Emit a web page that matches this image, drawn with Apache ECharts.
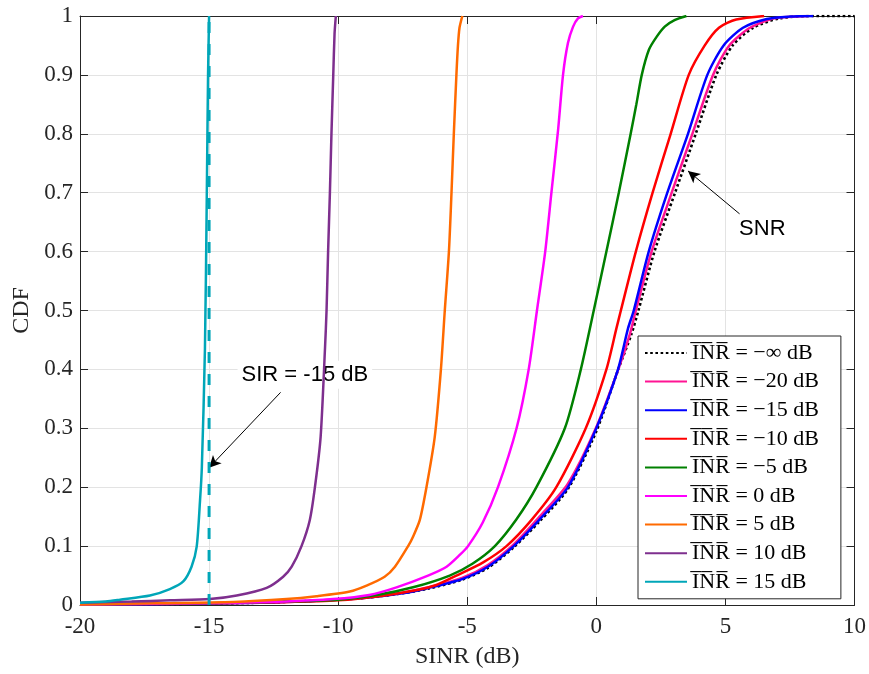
<!DOCTYPE html>
<html><head><meta charset="utf-8">
<script src="https://cdn.jsdelivr.net/npm/echarts@6/dist/echarts.min.js"></script>
<style>html,body{margin:0;padding:0;background:#fff}#c{width:869px;height:674px}</style>
</head><body><div id="c"></div>
<script>
// ---- data ----
const snrInf = [[-20,0.001],[-16,0.002],[-13,0.004],[-11,0.007],[-9,0.012],[-7.5,0.02],[-6.5,0.028],[-5.2,0.043],[-4.2,0.063],[-3.2,0.098],[-2.2,0.142],[-1.1,0.197],[0,0.295],[0.85,0.4],[1.36,0.46],[1.63,0.5],[2.25,0.6],[3.05,0.7],[3.85,0.8],[4.65,0.9],[5.28,0.95],[6.07,0.98],[7.1,0.996],[8.4,1.0],[10,1.0]];
const inrM20 = [[-20,0.001],[-16,0.002],[-13,0.004],[-11,0.007],[-9,0.013],[-7.5,0.021],[-6.5,0.03],[-5.2,0.046],[-4.2,0.068],[-3.2,0.103],[-2.2,0.15],[-1.1,0.206],[0,0.302],[0.85,0.4],[1.3,0.46],[1.53,0.5],[2.14,0.6],[2.92,0.7],[3.72,0.8],[4.52,0.9],[5.15,0.95],[5.95,0.98],[6.9,0.996],[8.2,1.0]];
const inrM15 = [[-20,0.001],[-16,0.002],[-13,0.004],[-11,0.007],[-9,0.012],[-7.5,0.02],[-6.5,0.029],[-5.2,0.044],[-4.2,0.065],[-3.2,0.1],[-2.2,0.145],[-1.1,0.2],[0,0.3],[0.84,0.4],[1.23,0.47],[1.45,0.5],[2.03,0.6],[2.75,0.7],[3.55,0.8],[4.3,0.9],[4.93,0.95],[5.68,0.98],[6.6,0.995],[7.5,0.999],[8.4,1.0]];
const inrM10 = [[-20,0.001],[-15,0.003],[-12,0.005],[-10,0.008],[-8.4,0.015],[-7,0.025],[-6.2,0.034],[-5.42,0.05],[-4.4,0.072],[-3.48,0.1],[-2.5,0.145],[-1.55,0.2],[-0.41,0.3],[0.39,0.4],[0.78,0.47],[0.95,0.5],[1.53,0.6],[2.18,0.7],[2.88,0.8],[3.58,0.9],[4.2,0.95],[4.75,0.98],[5.42,0.994],[6.5,1.0]];
const inrM5 = [[-20,0.001],[-15,0.003],[-12,0.006],[-10,0.009],[-8.5,0.017],[-7.1,0.03],[-5.68,0.05],[-4.8,0.07],[-3.93,0.1],[-3.1,0.145],[-2.32,0.2],[-1.22,0.3],[-0.6,0.4],[-0.1,0.5],[0.39,0.6],[0.87,0.7],[1.33,0.8],[1.55,0.85],[1.76,0.9],[2.04,0.943],[2.34,0.965],[2.65,0.982],[3.03,0.993],[3.49,1.0]];
const inr0 = [[-20,0.001],[-15,0.003],[-12,0.006],[-10.2,0.01],[-8.8,0.017],[-7.74,0.03],[-6.52,0.05],[-5.8,0.065],[-5.29,0.085],[-4.97,0.1],[-4.4,0.14],[-3.81,0.2],[-3.09,0.3],[-2.62,0.4],[-2.3,0.5],[-1.98,0.6],[-1.74,0.7],[-1.48,0.807],[-1.29,0.9],[-1.1,0.954],[-0.9,0.982],[-0.71,0.996],[-0.52,1.0]];
const inr5 = [[-20,0.001],[-17,0.003],[-14.06,0.005],[-12,0.01],[-10.84,0.015],[-9.55,0.023],[-8.9,0.033],[-8.2,0.048],[-7.8,0.065],[-7.29,0.1],[-7.1,0.116],[-6.84,0.144],[-6.58,0.2],[-6.26,0.285],[-6.02,0.4],[-5.87,0.5],[-5.71,0.6],[-5.61,0.7],[-5.52,0.8],[-5.42,0.9],[-5.36,0.95],[-5.3,0.98],[-5.19,1.0]];
const inr10 = [[-20,0.004],[-18,0.006],[-16.5,0.008],[-14.97,0.01],[-13.93,0.016],[-12.77,0.029],[-12.13,0.048],[-11.8,0.065],[-11.42,0.1],[-11.1,0.144],[-10.9,0.2],[-10.68,0.285],[-10.51,0.436],[-10.45,0.5],[-10.39,0.6],[-10.32,0.7],[-10.26,0.8],[-10.19,0.9],[-10.14,0.97],[-10.09,1.0]];
const inr15 = [[-20,0.004],[-19,0.006],[-18.45,0.009],[-17.29,0.016],[-16.52,0.027],[-16.0,0.04],[-15.68,0.065],[-15.48,0.099],[-15.35,0.178],[-15.28,0.234],[-15.16,0.436],[-15.09,0.69],[-15.04,0.9],[-15.0,1.0]];
const sirLine = [[-15,0],[-15,1]];
const sirArrow = [[-12.23,0.361],[-15,0.233]];
const snrArrow = [[5.55,0.664],[3.55,0.737]];
const sirText = [-11.29,0.391];
const snrText = [6.43,0.639];
const legendLabels = [
  'I\u0305N\u0305R\u0305 = \u2212\u221E dB',
  'I\u0305N\u0305R\u0305 = \u221220 dB',
  'I\u0305N\u0305R\u0305 = \u221215 dB',
  'I\u0305N\u0305R\u0305 = \u221210 dB',
  'I\u0305N\u0305R\u0305 = \u22125 dB',
  'I\u0305N\u0305R\u0305 = 0 dB',
  'I\u0305N\u0305R\u0305 = 5 dB',
  'I\u0305N\u0305R\u0305 = 10 dB',
  'I\u0305N\u0305R\u0305 = 15 dB'
];
const seriesData = [snrInf, inrM20, inrM15, inrM10, inrM5, inr0, inr5, inr10, inr15];
const colors = ['#000000','#ff1493','#0000ff','#ff0000','#008000','#ff00ff','#ff6a00','#7e2f8e','#00a6b8'];

// ---- chart ----
const axisColor = '#262626';
const serif = 'Liberation Serif, DejaVu Serif, serif';
const sans = 'Liberation Sans, Arial, sans-serif';
const chart = echarts.init(document.getElementById('c'), null, {renderer:'canvas'});
const series = seriesData.map((d, i) => ({
  name: legendLabels[i], type: 'line', data: d, showSymbol: false, symbol: 'none',
  smooth: 0.25,
  lineStyle: {color: colors[i], width: i === 0 ? 2.6 : 2.5, type: i === 0 ? [2.6, 2.6] : 'solid'},
  itemStyle: {color: colors[i]}, animation: false, z: 3 + i
}));
series.push({
  name: 'SIR', type: 'line', data: sirLine, showSymbol: false, symbol: 'none', z: 20,
  lineStyle: {color: '#00a6b8', width: 3, type: [11, 11]}, animation: false,
  markLine: {
    silent: true, animation: false, symbol: ['none', 'arrow'], symbolSize: [9, 12],
    lineStyle: {color: '#000', width: 1, type: 'solid'}, label: {show: false},
    data: [
      [{coord: sirArrow[0]}, {coord: sirArrow[1]}],
      [{coord: snrArrow[0]}, {coord: snrArrow[1]}]
    ]
  },
  markPoint: {
    silent: true, animation: false, symbol: 'rect', symbolSize: 1,
    itemStyle: {color: 'rgba(0,0,0,0)'},
    label: {show: true, position: 'inside', formatter: p => p.name, color: '#000',
      fontFamily: sans, fontSize: 22, backgroundColor: '#fff', padding: [3, 4]},
    data: [
      {name: 'SIR = -15 dB', coord: sirText},
      {name: 'SNR', coord: snrText}
    ]
  }
});
const option = {
  backgroundColor: '#fff',
  animation: false,
  grid: {left: 80, right: 14, top: 16, bottom: 65, containLabel: false},
  legend: {
    orient: 'vertical', left: 638, top: 336,
    padding: [5, 22, 5, 6], itemGap: 4.6, itemWidth: 42, itemHeight: 24,
    backgroundColor: '#fff', borderColor: axisColor, borderWidth: 1,
    itemStyle: {color: 'rgba(0,0,0,0)', borderColor: 'rgba(0,0,0,0)', borderWidth: 0, opacity: 0},
    textStyle: {fontFamily: serif, fontSize: 22, color: '#000', lineHeight: 24},
    data: legendLabels, selectedMode: false
  },
  xAxis: [{
    type: 'value', min: -20, max: 10, interval: 5, position: 'bottom',
    axisLine: {show: true, onZero: false, lineStyle: {color: axisColor, width: 1}},
    axisTick: {show: true, inside: true, length: 8, lineStyle: {color: axisColor}},
    axisLabel: {fontFamily: serif, fontSize: 23, color: axisColor, margin: 10},
    splitLine: {show: true, lineStyle: {color: '#e3e3e3', width: 1}},
    name: 'SINR (dB)', nameLocation: 'middle', nameGap: 40,
    nameTextStyle: {fontFamily: serif, fontSize: 24, color: axisColor}
  }, {
    type: 'value', min: -20, max: 10, interval: 5, position: 'top',
    axisLine: {show: true, onZero: false, lineStyle: {color: axisColor, width: 1}},
    axisTick: {show: true, inside: true, length: 8, lineStyle: {color: axisColor}},
    axisLabel: {show: false}, splitLine: {show: false}
  }],
  yAxis: [{
    type: 'value', min: 0, max: 1, interval: 0.1, position: 'left',
    axisLine: {show: true, onZero: false, lineStyle: {color: axisColor, width: 1}},
    axisTick: {show: true, inside: true, length: 8, lineStyle: {color: axisColor}},
    axisLabel: {fontFamily: serif, fontSize: 23, color: axisColor, margin: 7},
    splitLine: {show: true, lineStyle: {color: '#e3e3e3', width: 1}},
    name: 'CDF', nameLocation: 'middle', nameGap: 45,
    nameTextStyle: {fontFamily: serif, fontSize: 24, color: axisColor}
  }, {
    type: 'value', min: 0, max: 1, interval: 0.1, position: 'right',
    axisLine: {show: true, onZero: false, lineStyle: {color: axisColor, width: 1}},
    axisTick: {show: true, inside: true, length: 8, lineStyle: {color: axisColor}},
    axisLabel: {show: false}, splitLine: {show: false}
  }],
  series: series
};
chart.setOption(option);
</script>
</body></html>
